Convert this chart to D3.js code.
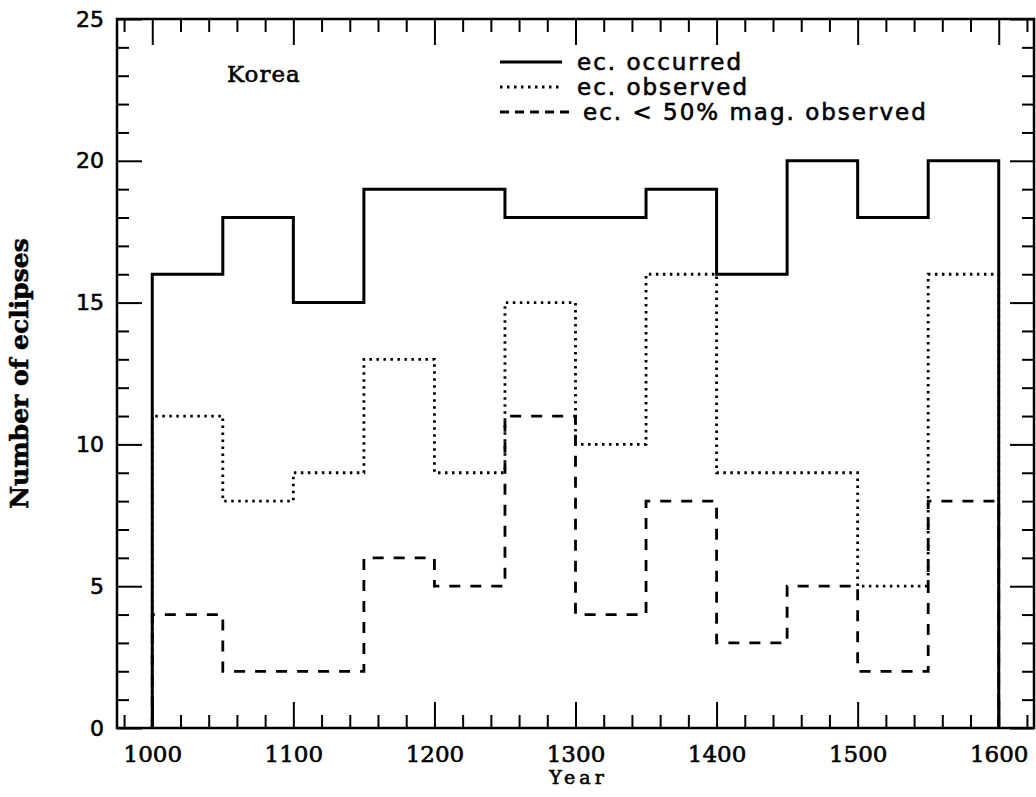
<!doctype html>
<html lang="en">
<head>
    <meta charset="UTF-8" />
    <title>Korea eclipses</title>
    <script src="https://d3js.org/d3.v7.min.js"></script>
    <style>
        body, html {
            margin: 0;
            padding: 0;
            background: #fff;
            overflow: hidden;
        }

        svg {
            display: block;
        }

        text {
            fill: #000;
            stroke: #000;
            stroke-width: 0.6px;
        }

        .tick line {
            stroke: #000;
            stroke-width: 2px;
        }

        .xlab text {
            font-family: "DejaVu Serif", serif;
            font-size: 23px;
        }

        .ylab text {
            font-family: "DejaVu Sans", sans-serif;
            font-size: 22px;
        }

        .legend text {
            font-family: "DejaVu Sans", sans-serif;
            font-size: 23px;
            letter-spacing: 2px;
        }
    </style>
</head>
<body>
    <svg id="chart"></svg>

    <script>
        // bin edges (50-year bins)
        const binStarts = [1000, 1050, 1100, 1150, 1200, 1250, 1300, 1350, 1400, 1450, 1500, 1550];
        const binEnd = 1600;

        const occurred = [16, 18, 15, 19, 19, 18, 18, 19, 16, 20, 18, 20];
        const observed = [11, 8, 9, 13, 9, 15, 10, 16, 9, 9, 5, 16];
        const lowMagObserved = [4, 2, 2, 6, 5, 11, 4, 8, 3, 5, 2, 8];

        const legendLabels = ["ec. occurred", "ec. observed", "ec. < 50% mag. observed"];

        const xMajorTicks = [1000, 1100, 1200, 1300, 1400, 1500, 1600];
        const xMinorTicks = d3.range(980, 1621, 20).filter(v => v % 100 !== 0);
        const yMajorTicks = [0, 5, 10, 15, 20, 25];
        const yMinorTicks = d3.range(0, 26, 1).filter(v => v % 5 !== 0);

        const width = 1036;
        const height = 797;
        const plotLeft = 117, plotRight = 1034, plotTop = 19, plotBottom = 728;

        const svg = d3.select("#chart")
            .attr("width", width)
            .attr("height", height);

        const x = d3.scaleLinear().domain([975, 1625]).range([plotLeft, plotRight]);
        const y = d3.scaleLinear().domain([0, 25]).range([plotBottom, plotTop]);

        // frame
        svg.append("rect")
            .attr("x", plotLeft)
            .attr("y", plotTop)
            .attr("width", plotRight - plotLeft)
            .attr("height", plotBottom - plotTop)
            .attr("fill", "none")
            .attr("stroke", "#000")
            .attr("stroke-width", 2.5);

        function addAxis(axis, tx, ty, cls) {
            const g = svg.append("g")
                .attr("class", cls || "")
                .attr("transform", `translate(${tx},${ty})`)
                .call(axis);
            g.select(".domain").remove();
            return g;
        }

        // bottom
        addAxis(d3.axisBottom(x).tickValues(xMajorTicks).tickSize(-26).tickPadding(18).tickFormat(d3.format("d")), 0, plotBottom, "xlab");
        addAxis(d3.axisBottom(x).tickValues(xMinorTicks).tickSize(-13).tickFormat(""), 0, plotBottom);
        // top
        addAxis(d3.axisTop(x).tickValues(xMajorTicks).tickSize(-26).tickFormat(""), 0, plotTop);
        addAxis(d3.axisTop(x).tickValues(xMinorTicks).tickSize(-13).tickFormat(""), 0, plotTop);
        // left
        addAxis(d3.axisLeft(y).tickValues(yMajorTicks).tickSize(-25).tickPadding(13), plotLeft, 0, "ylab");
        addAxis(d3.axisLeft(y).tickValues(yMinorTicks).tickSize(-12).tickFormat(""), plotLeft, 0);
        // right
        addAxis(d3.axisRight(y).tickValues(yMajorTicks).tickSize(-24).tickFormat(""), plotRight, 0);
        addAxis(d3.axisRight(y).tickValues(yMinorTicks).tickSize(-12).tickFormat(""), plotRight, 0);

        // histogram outlines
        function stepPoints(values) {
            const pts = [[binStarts[0], 0]];
            binStarts.forEach((s, i) => pts.push([s, values[i]]));
            pts.push([binEnd, values[values.length - 1]]);
            pts.push([binEnd, 0]);
            return pts;
        }

        const line = d3.line()
            .x(d => x(d[0]))
            .y(d => y(d[1]))
            .curve(d3.curveStepAfter);

        const styles = [
            { data: occurred, width: 3, dash: null },
            { data: observed, width: 2.8, dash: "2.5,4.5" },
            { data: lowMagObserved, width: 2.8, dash: "11,10" }
        ];

        styles.forEach(s => {
            svg.append("path")
                .attr("d", line(stepPoints(s.data)))
                .attr("fill", "none")
                .attr("stroke", "#000")
                .attr("stroke-width", s.width)
                .attr("stroke-dasharray", s.dash);
        });

        // labels
        svg.append("text")
            .attr("x", 227)
            .attr("y", 82)
            .attr("font-family", "DejaVu Serif, serif")
            .attr("font-size", 23)
            .attr("letter-spacing", "1px")
            .text("Korea");

        svg.append("text")
            .attr("x", (plotLeft + plotRight) / 2 + 3)
            .attr("y", 784)
            .attr("text-anchor", "middle")
            .attr("font-family", "DejaVu Serif, serif")
            .attr("font-size", 19)
            .attr("letter-spacing", "4px")
            .text("Year");

        svg.append("text")
            .attr("transform", `translate(28,${(plotTop + plotBottom) / 2}) rotate(-90)`)
            .attr("text-anchor", "middle")
            .attr("font-family", "DejaVu Serif, serif")
            .attr("font-weight", "bold")
            .attr("font-size", 25)
            .attr("stroke-width", 0)
            .text("Number of eclipses");

        // legend
        const legend = svg.append("g").attr("class", "legend");
        const legendRows = [
            { y: 70, x1: 500, x2: 562, tx: 577 },
            { y: 95, x1: 500, x2: 562, tx: 577 },
            { y: 120, x1: 500, x2: 575, tx: 583 }
        ];
        legendRows.forEach((r, i) => {
            legend.append("line")
                .attr("x1", r.x1)
                .attr("x2", r.x2)
                .attr("y1", r.y - 8)
                .attr("y2", r.y - 8)
                .attr("stroke", "#000")
                .attr("stroke-width", styles[i].width)
                .attr("stroke-dasharray", i === 2 ? "9,6" : styles[i].dash);
            legend.append("text")
                .attr("x", r.tx)
                .attr("y", r.y)
                .text(legendLabels[i]);
        });
    </script>
</body>
</html>
